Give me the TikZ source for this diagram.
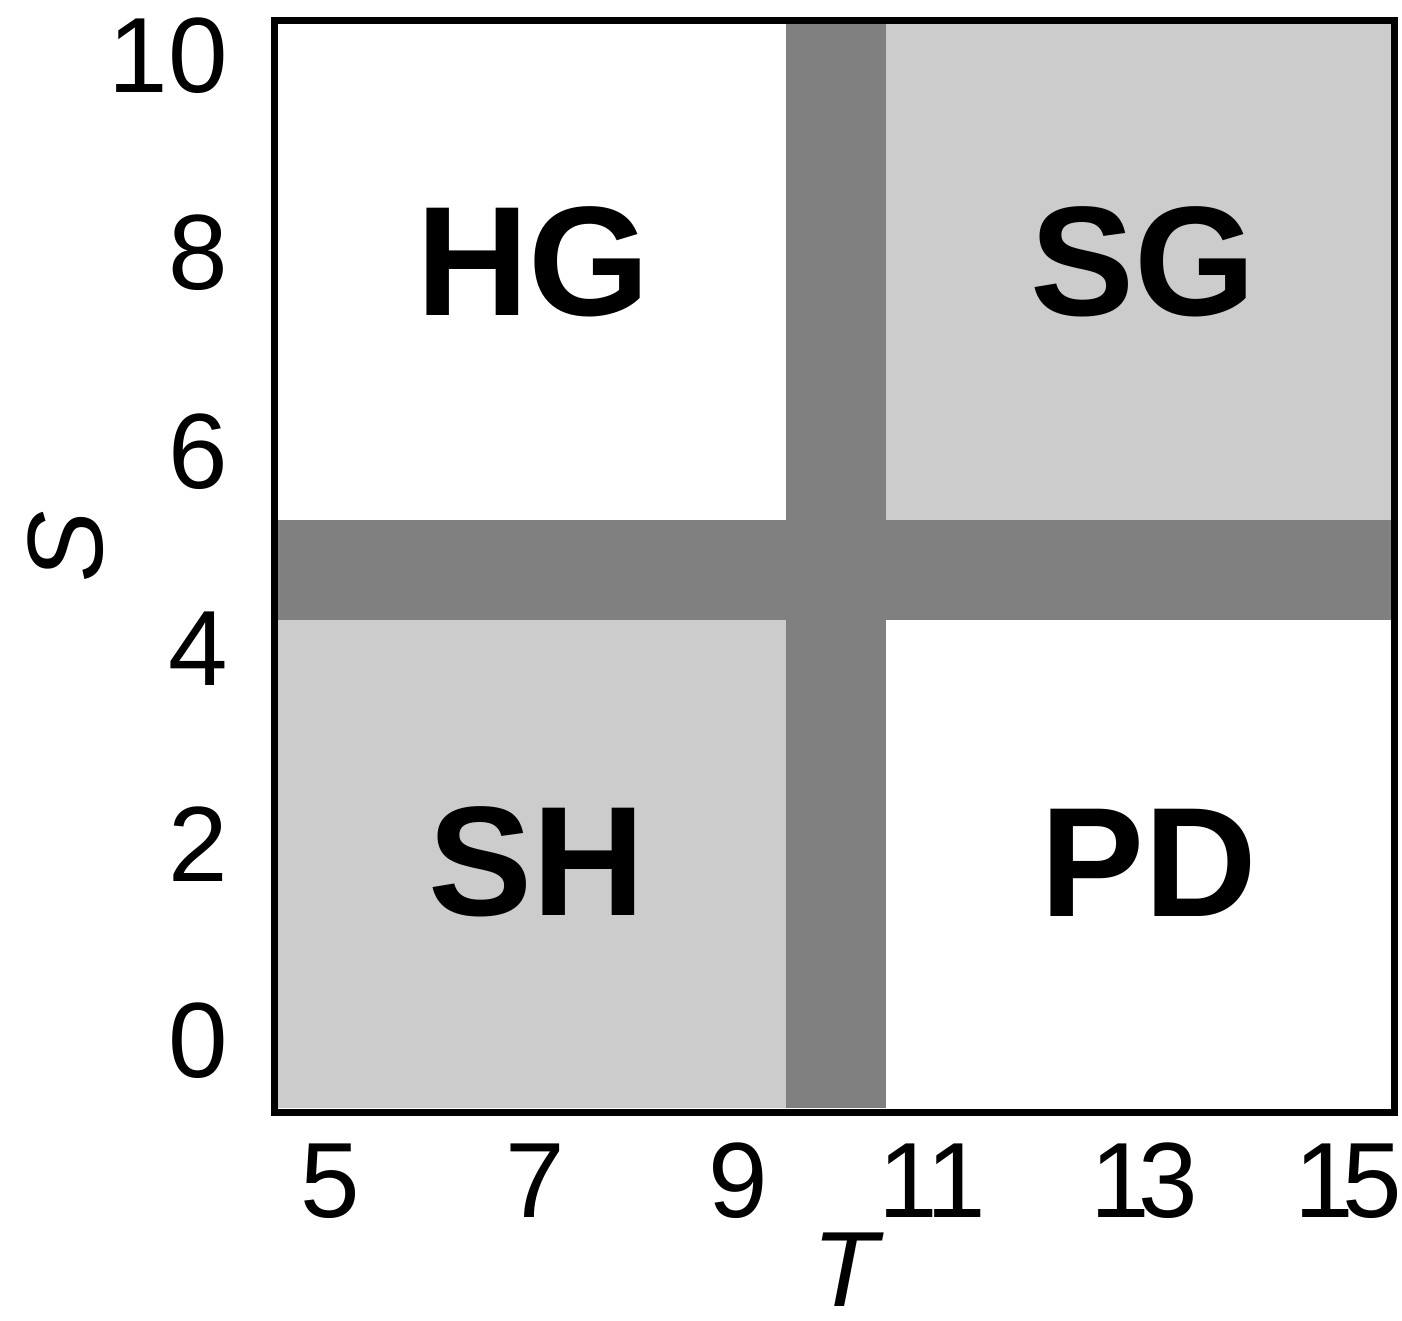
\documentclass[tikz,border=0pt]{standalone}
\usepackage{fontspec}
\setmainfont{Liberation Sans}
\usepackage{xcolor}
\usepackage{tikz}
\colorlet{cellgray}{black!20}
\colorlet{bandgray}{black!50}
\newcommand{\tightpair}[2]{#1\kern-12pt#2}

\begin{document}
\begin{tikzpicture}[x=1pt, y=-1pt,
    cell/.style={fill=cellgray},
    band/.style={fill=bandgray},
    game/.style={inner sep=0pt, font=\fontsize{156}{160}\selectfont\bfseries},
    ticklabel/.style={inner sep=0pt, font=\fontsize{107}{110}\selectfont},
    axislabel/.style={inner sep=0pt, font=\fontsize{107}{110}\selectfont\itshape}
]
    \useasboundingbox (0,0) rectangle (1402,1321);

    % regions of the (T,S) plane
    \fill[cell] (886,24) rectangle (1391,520);
    \fill[cell] (278,620) rectangle (786,1108);
    \fill[band] (786,24) rectangle (886,1108);
    \fill[band] (278,520) rectangle (1391,620);
    \draw[line width=7pt] (274.5,20.5) rectangle (1394.5,1112.5);

    \node[game] (hg) at (533,262) {HG};
    \node[game] (sg) at (1143,262) {SG};
    \node[game] (sh) at (537,862) {SH};
    \node[game] (pd) at (1149,863) {PD};

    % S axis
    \node[ticklabel, anchor=east] (s10) at (228,56) {10};
    \node[ticklabel, anchor=east] (s8) at (228,253) {8};
    \node[ticklabel, anchor=east] (s6) at (228,452) {6};
    \node[ticklabel, anchor=east] (s4) at (228,649) {4};
    \node[ticklabel, anchor=east] (s2) at (228,844) {2};
    \node[ticklabel, anchor=east] (s0) at (228,1041) {0};
    \node[axislabel, rotate=90] (slabel) at (66,547) {S};

    % T axis
    \node[ticklabel] (t5) at (330,1181) {5};
    \node[ticklabel] (t7) at (535,1181) {7};
    \node[ticklabel] (t9) at (738,1181) {9};
    \node[ticklabel] (t11) at (932,1181) {\tightpair{1}{1}};
    \node[ticklabel] (t13) at (1144,1181) {\tightpair{1}{3}};
    \node[ticklabel] (t15) at (1348,1181) {\tightpair{1}{5}};
    \node[axislabel] (tlabel) at (845,1270) {T};
\end{tikzpicture}
\end{document}
